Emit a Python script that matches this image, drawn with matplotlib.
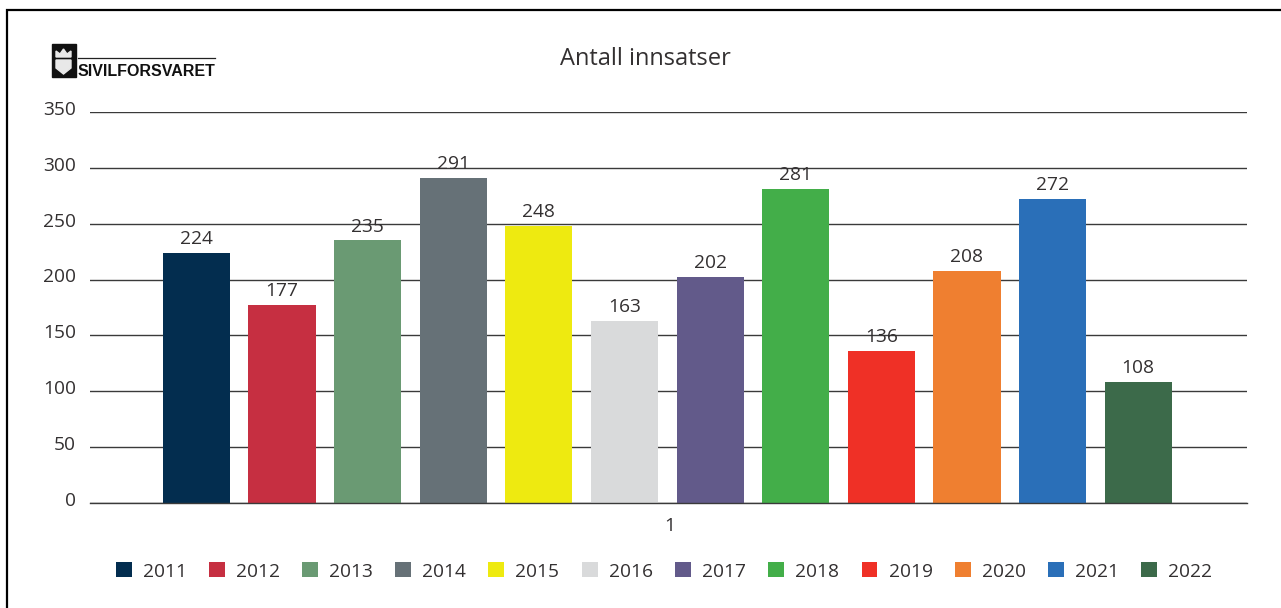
#!/usr/bin/env python3
"""Antall innsatser per aar, Sivilforsvaret"""
import matplotlib
matplotlib.use('Agg')
import matplotlib.pyplot as plt
from matplotlib.lines import Line2D
from matplotlib.patches import Polygon, Rectangle
from matplotlib.transforms import ScaledTranslation

years = ['2011', '2012', '2013', '2014', '2015', '2016',
         '2017', '2018', '2019', '2020', '2021', '2022']
values = [224, 177, 235, 291, 248, 163, 202, 281, 136, 208, 272, 108]
colors = ['#032d4f', '#c62f41', '#6a9a73', '#667177', '#eeea10', '#d9dadb',
          '#625a8a', '#43ae49', '#ef3026', '#ef7f30', '#2a6fb8', '#3c6a4a']
yticks = [0, 50, 100, 150, 200, 250, 300, 350]

W, H = 1281, 608
TEXT = '#333031'
FS = 13.8
plt.rcParams['font.family'] = ['Open Sans', 'DejaVu Sans']

fig = plt.figure(figsize=(W / 100, H / 100), dpi=100)


def px(x, y):
    # pixel fra referansen -> figurkoordinater
    return x / W, 1 - y / H


ax = fig.add_axes([90 / W, 1 - 503 / H, (1247 - 90) / W, (503 - 112) / H])

positions = range(len(values))
for i in positions:
    bars = ax.bar(i, values[i], width=0.785, color=colors[i], label=years[i], zorder=3)
    ax.bar_label(bars, padding=3.5, fontsize=FS, color=TEXT, zorder=4)

ax.set_xlim(-1.244, 12.272)
ax.set_ylim(0, 350)
ax.set_yticks(yticks)
ax.grid(True, axis='y', color='#3a3a3a', linewidth=1.0, zorder=1)
ax.set_axisbelow(True)
ax.set_xticks([5.5])
ax.set_xticklabels(['1'])
ax.tick_params(axis='y', length=0, pad=10, labelsize=FS, labelcolor=TEXT)
ax.tick_params(axis='x', length=0, pad=10, labelsize=FS, labelcolor=TEXT)
for name in ['top', 'right', 'left']:
    ax.spines[name].set_visible(False)
ax.spines['bottom'].set_color('#3a3a3a')
ax.spines['bottom'].set_linewidth(1.0)
ax.spines['bottom'].set_zorder(5)

# etikettene staar litt over linjene
for lab in ax.get_yticklabels():
    lab.set_transform(lab.get_transform() + ScaledTranslation(0, 3 / 72, fig.dpi_scale_trans))
for lab in ax.get_xticklabels():
    lab.set_transform(lab.get_transform() + ScaledTranslation(2 / 72, 0, fig.dpi_scale_trans))

fig.text(*px(645, 59), 'Antall innsatser', fontsize=17, color=TEXT, ha='center', va='center')

leg = ax.legend(loc='center', bbox_to_anchor=px(664, 571.5), bbox_transform=fig.transFigure,
                ncol=12, frameon=False, fontsize=FS, labelcolor=TEXT,
                handlelength=0.83, handleheight=0.83, handletextpad=0.58, columnspacing=1.16)

# ramme oppe og til venstre
fig.add_artist(Line2D([6.5 / W, 6.5 / W, 1], [0, 1 - 10 / H, 1 - 10 / H], color='black',
                      linewidth=1.6, solid_joinstyle='miter', transform=fig.transFigure))

# logo
fig.add_artist(Rectangle(px(52, 76.5), 23.5 / W, 33 / H, color='#111111', transform=fig.transFigure))
shield = [px(56, 60), px(71, 60), px(71, 68), px(63.5, 74), px(56, 68)]
fig.add_artist(Polygon(shield, closed=True, color='#e8e8e8', transform=fig.transFigure))
crown = [px(56, 57), px(56, 51), px(60, 54), px(63.5, 49), px(67, 54), px(71, 51), px(71, 57)]
fig.add_artist(Polygon(crown, closed=True, color='#e8e8e8', transform=fig.transFigure))
fig.add_artist(Line2D([78 / W, 215 / W], [1 - 58 / H, 1 - 58 / H], color='#222222',
                      linewidth=0.9, transform=fig.transFigure))
fig.text(*px(78, 76), 'SIVILFORSVARET', fontsize=11.5, fontweight='bold', color='#111111',
         family=['Liberation Sans'], ha='left', va='baseline')

fig.savefig('out.png', dpi=100)
